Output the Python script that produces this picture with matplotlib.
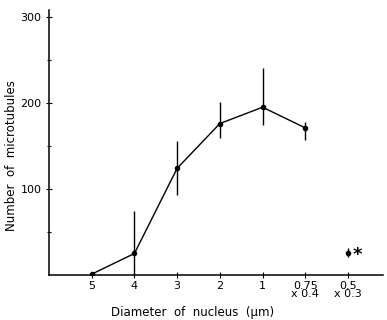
import matplotlib
matplotlib.use("Agg")
import matplotlib.pyplot as plt
import numpy as np

# diameter categories (um), plotted evenly spaced
tick_labels = ["5", "4", "3", "2", "1", "0.75\nx 0.4", "0.5\nx 0.3"]
# connected series (5 .. 0.75)
mt_mean = [1, 25, 124, 176, 195, 171]
mt_low = [0, 0, 93, 159, 174, 157]
mt_high = [2, 74, 156, 201, 241, 178]
# separate point for 0.5 um
sep_mean = [26]
sep_low = [21]
sep_high = [31]

fig = plt.figure(figsize=(3.87, 3.2), dpi=100)
ax = fig.add_axes([49 / 387, 45 / 320, 334 / 387, 265 / 320])

x = np.arange(len(mt_mean))
mean = np.array(mt_mean)
err = [mean - np.array(mt_low), np.array(mt_high) - mean]
ax.errorbar(x, mean, yerr=err, fmt='-o', color='black', ms=3, lw=1,
            elinewidth=1, capsize=0)

xs = np.array([len(mt_mean)])
sm = np.array(sep_mean)
ax.errorbar(xs, sm, yerr=[sm - np.array(sep_low), np.array(sep_high) - sm],
            fmt='o', color='black', ms=3, elinewidth=1, capsize=0)
ax.text(xs[0] + 0.12, sm[0] - 3, '*', fontsize=13, ha='left', va='center',
        fontweight='bold')

ax.set_xlim(-1.0, 6.82)
ax.set_ylim(0, 308)
ax.set_xticks(np.arange(len(tick_labels)))
ax.set_xticklabels(tick_labels, fontsize=8, linespacing=0.85)
ax.set_yticks([100, 200, 300])
ax.set_yticks([50, 150, 250], minor=True)
ax.tick_params(axis='y', labelsize=8, direction='inout', length=4, width=0.8)
ax.tick_params(axis='y', which='minor', direction='inout', length=3, width=0.8)
ax.tick_params(axis='x', direction='inout', length=4, width=0.8, pad=2)

for s in ['top', 'right']:
    ax.spines[s].set_visible(False)
for s in ['left', 'bottom']:
    ax.spines[s].set_linewidth(1.1)

ax.set_ylabel('Number  of  microtubules', fontsize=8.5)
ax.yaxis.set_label_coords(-0.092, 0.45)
ax.set_xlabel('Diameter  of  nucleus  (\u03bcm)', fontsize=8.5)
ax.xaxis.set_label_coords(0.431, -0.117)

fig.savefig('out.png', dpi=100)
